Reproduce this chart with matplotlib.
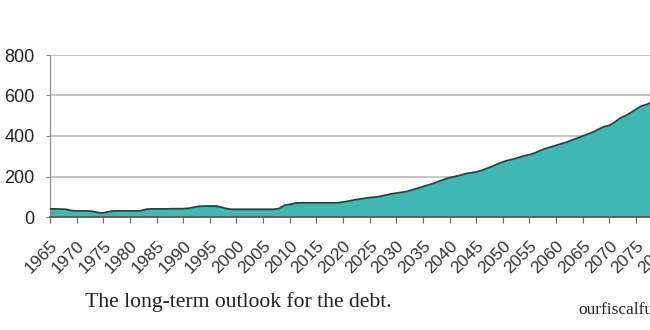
import matplotlib
matplotlib.use("Agg")
import matplotlib.pyplot as plt
import numpy as np

years = list(range(1965, 2085))
debt = [
    40, 40, 39, 38, 32, 30, 30, 30, 28, 22,
    20, 26, 30, 30, 30, 30, 30, 31, 38, 40,
    40, 40, 40, 41, 41, 41, 43, 48, 53, 54,
    54, 54, 50, 42, 38, 38, 38, 38, 38, 38,
    38, 38, 38, 42, 58, 62, 68, 70, 70, 70,
    70, 70, 70, 70, 70, 74, 78, 84, 88, 92,
    96, 98, 102, 108, 114, 118, 122, 126, 134, 142,
    150, 158, 166, 176, 186, 194, 200, 206, 214, 218,
    222, 230, 240, 250, 262, 272, 280, 286, 294, 302,
    308, 316, 328, 338, 346, 354, 362, 370, 380, 390,
    400, 410, 420, 434, 446, 452, 468, 488, 500, 515,
    532, 548, 556, 566, 578, 590, 602, 614, 626, 638,
]
tick_years = list(range(1965, 2085, 5))
yticks = [0, 200, 400, 600, 800]
caption = "The long-term outlook for the debt."
source = "ourfiscalfuture.org"

fig = plt.figure(figsize=(6.5, 3.3), dpi=100)
ax = fig.add_axes([50/650, 1-217/330, 634/650, (217-55)/330])

ax.fill_between(years, debt, 0, color="#40b8b1", linewidth=0, zorder=2)
ax.plot(years, debt, color="#3a3a3a", linewidth=1.3, zorder=3)

ax.set_xlim(1965, 2084)
ax.set_ylim(0, 800)
ax.set_yticks(yticks)
ax.set_yticklabels([str(v) for v in yticks], fontsize=13, family="Liberation Sans", color="#222222")
ax.set_xticks(tick_years)
ax.set_xticklabels([str(y) for y in tick_years], rotation=45, ha="right", va="top",
                   rotation_mode="anchor", fontsize=12.5, family="Liberation Sans", color="#333333")
ax.grid(axis="y", color="#bbbbbb", linewidth=1.2, zorder=1)
ax.set_axisbelow(True)
for s in ["top", "right"]:
    ax.spines[s].set_visible(False)
ax.spines["left"].set_color("#888888")
ax.spines["bottom"].set_color("#555555")
ax.spines["bottom"].set_linewidth(1.2)
ax.tick_params(axis="y", length=3, color="#888888", pad=8)
ax.tick_params(axis="x", length=4, color="#666666", pad=11)

fig.text(85/650, 1-307/330, caption, fontsize=15.6, family="Liberation Serif", color="#222222")
fig.text(578/650, 1-314/330, source, fontsize=12.5, family="Liberation Serif", color="#222222")

fig.savefig("out.png", dpi=100)
